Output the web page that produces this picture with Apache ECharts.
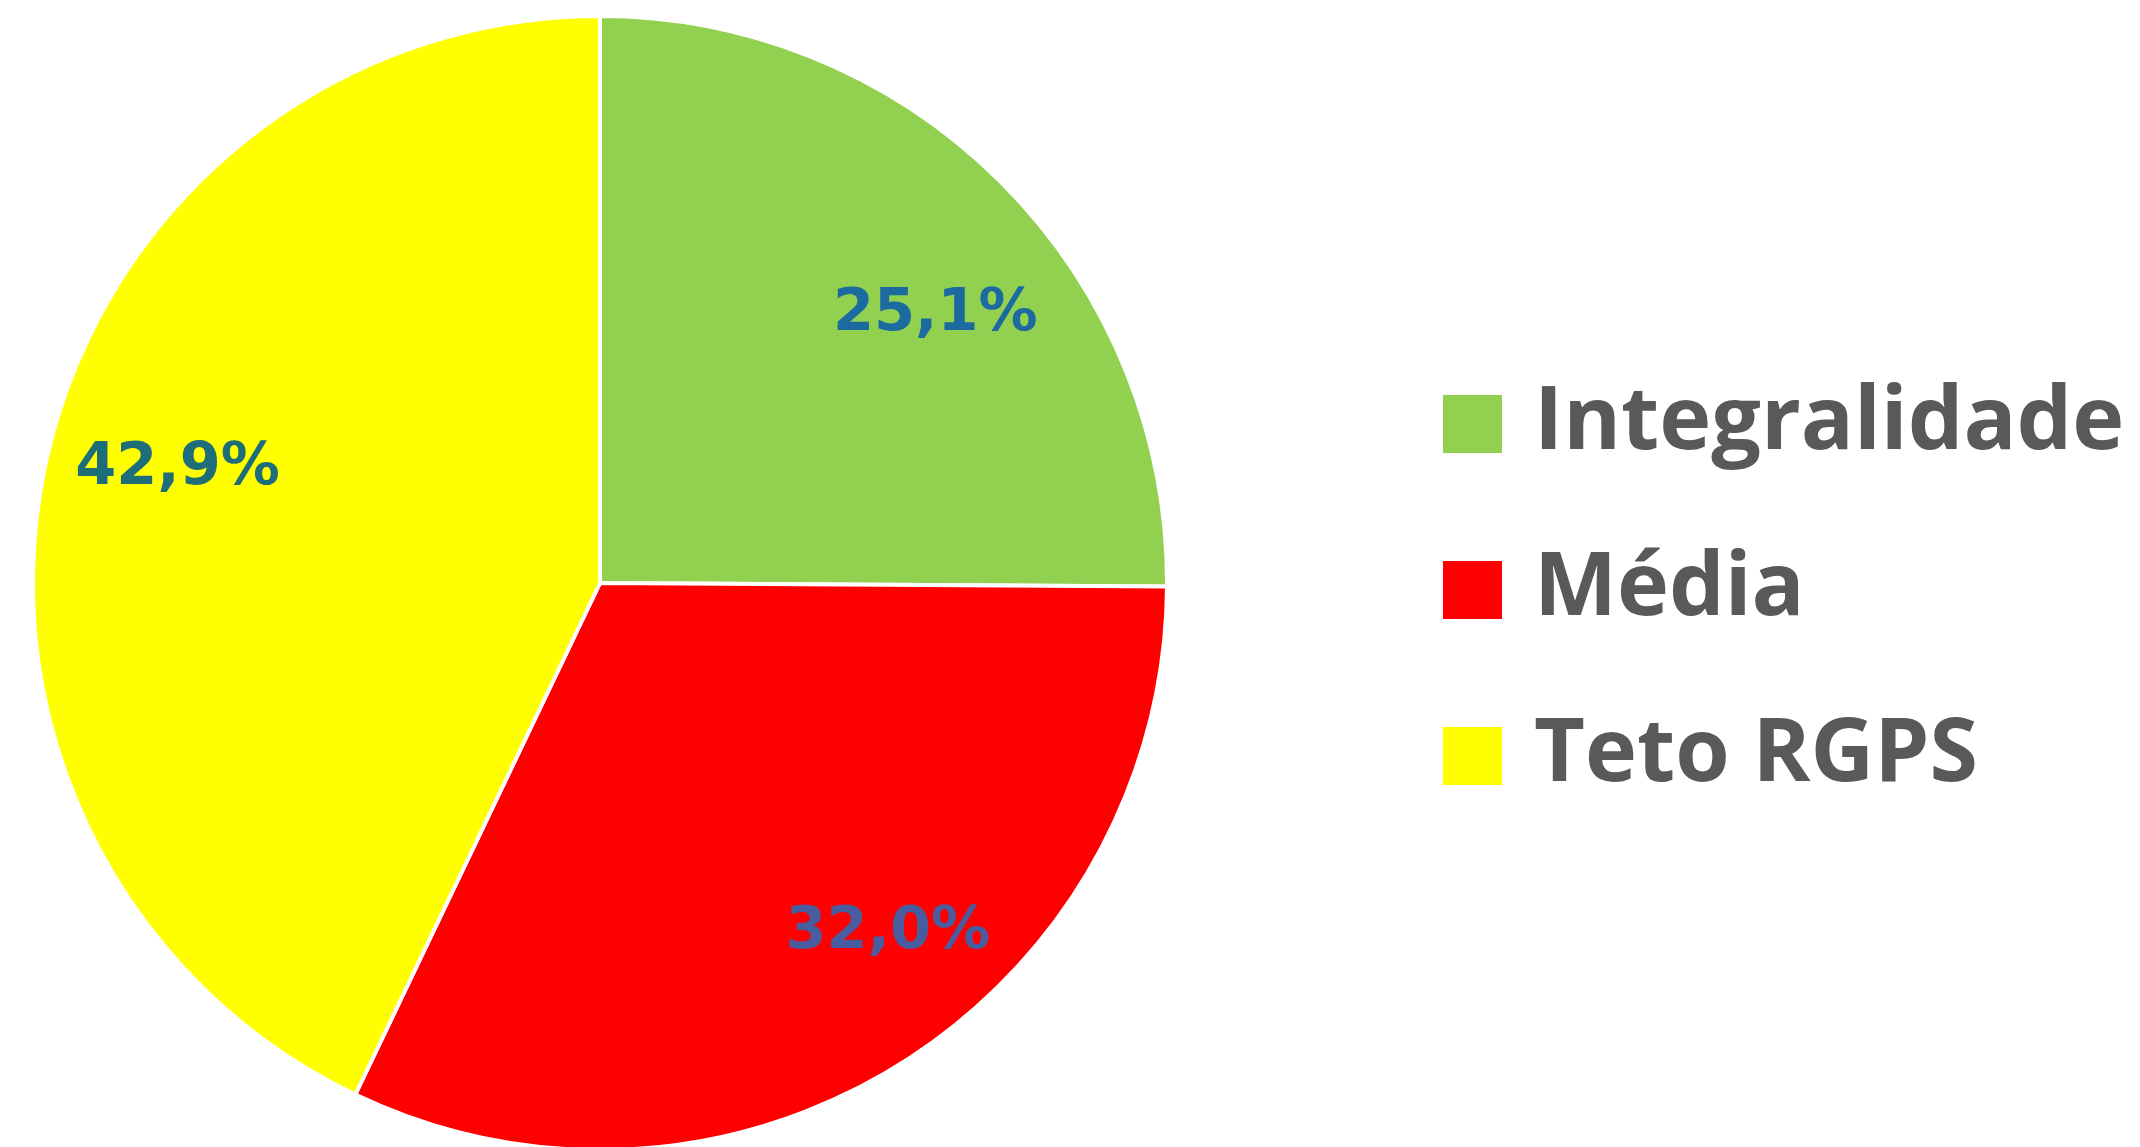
<!DOCTYPE html>
<html>
<head>
<meta charset="utf-8">
<script src="https://cdn.jsdelivr.net/npm/echarts@6/dist/echarts.min.js"></script>
<style>
	html, body { margin: 0; padding: 0; background: #fff; }
	#main { width: 2140px; height: 1147px; }
</style>
</head>
<body>
<div id="main"></div>
<script>
// dados do gráfico
var categorias = ['Integralidade', 'Média', 'Teto RGPS'];
var valores = [25.1, 32.0, 42.9];
var cores = ['#92D050', '#FF0000', '#FFFF00'];
var coresRotulo = ['#1B6BA0', '#4A5CA0', '#1E6E7A'];
// ajuste fino dos rótulos (o Excel não põe bem no meio da fatia)
var desvioRotulo = [[20, 45], [52, -27], [11, -16]];

showChart();

function showChart() {
	var myChart = echarts.init(document.getElementById('main'));

	var dados = categorias.map(function (nome, i) {
		return {
			name: nome,
			value: valores[i],
			itemStyle: { color: cores[i] },
			label: { color: coresRotulo[i], offset: desvioRotulo[i] }
		};
	});

	var option = {
		backgroundColor: '#ffffff',
		animation: false,
		legend: {
			orient: 'vertical',
			left: 1441,
			top: 380,
			padding: 0,
			itemWidth: 61,
			itemHeight: 60,
			itemGap: 78,
			icon: 'rect',
			data: categorias,
			textStyle: {
				fontFamily: 'Open Sans',
				fontWeight: 'bold',
				fontSize: 88,
				color: '#595959',
				padding: [0, 0, 0, 26]
			}
		},
		series: [{
			// fatias
			type: 'pie',
			center: [600, 583],
			radius: 567,
			startAngle: 90,
			clockwise: true,
			data: dados,
			itemStyle: { borderColor: '#ffffff', borderWidth: 4 },
			label: { show: false },
			labelLine: { show: false }
		}, {
			// só os rótulos, perto da borda como no Excel
			type: 'pie',
			center: [600, 583],
			radius: [316, 567],
			startAngle: 90,
			clockwise: true,
			silent: true,
			legendHoverLink: false,
			data: dados.map(function (d) {
				return { name: d.name, value: d.value, label: d.label, itemStyle: { color: 'rgba(0,0,0,0)' } };
			}),
			label: {
				show: true,
				position: 'inside',
				fontFamily: 'DejaVu Sans',
				fontWeight: 'bold',
				fontSize: 59,
				formatter: function (p) { return p.value.toFixed(1).replace('.', ',') + '%'; }
			},
			labelLine: { show: false }
		}]
	};
	myChart.setOption(option);
}
</script>
</body>
</html>
